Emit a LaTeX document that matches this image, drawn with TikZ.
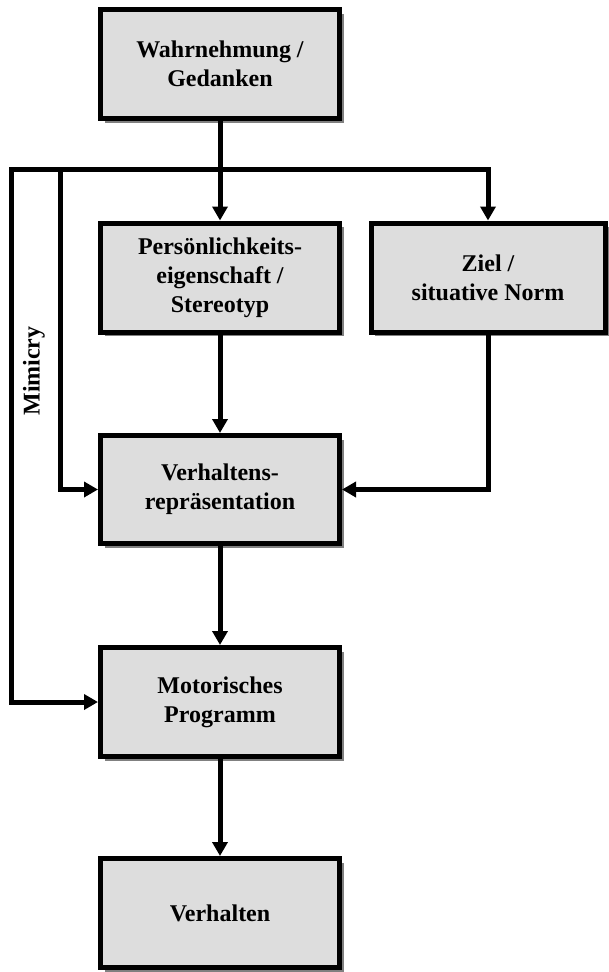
\documentclass[tikz,border=0pt]{standalone}
\usepackage{fontspec}
\setmainfont{Liberation Serif}
\usetikzlibrary{arrows.meta,shadows}
\definecolor{boxfill}{HTML}{DDDDDD}
\definecolor{shadowgray}{HTML}{808080}
\begin{document}
\begin{tikzpicture}[x=1pt,y=-1pt,
  flowbox/.style={draw=black, line width=5pt, fill=boxfill,
    minimum width=239pt, minimum height=109pt, inner sep=2pt,
    align=center, font=\fontsize{24}{29}\selectfont\bfseries,
    general shadow={fill=shadowgray, shadow xshift=4pt, shadow yshift=-4pt}},
  conn/.style={line width=5pt, line join=miter},
  arr/.style={conn, -{Triangle[length=14pt,width=15pt]}},
  darr/.style={conn, {Triangle[length=14pt,width=15pt]}-{Triangle[length=14pt,width=15pt]}}
]
\useasboundingbox (0,0) rectangle (608,972);
\node[flowbox] (w) at (220,64) {Wahrnehmung /\\Gedanken};
\node[flowbox] (p) at (220,277.5) {Persönlichkeits-\\eigenschaft /\\Stereotyp};
\node[flowbox, minimum width=234pt] (z) at (488,277.5) {Ziel /\\situative Norm};
\node[flowbox, minimum height=108pt] (v) at (220,489.5) {Verhaltens-\\repräsentation};
\node[flowbox] (m) at (220,702) {Motorisches\\Programm};
\node[flowbox] (b) at (220,913) {Verhalten};
\coordinate (hL) at (11,169);
\coordinate (hM) at (60,169);
\draw[darr] (m.west) -| (hL) -| (z.north);
\draw[arr] (hM) |- (v.west);
\draw[arr] (w.south) -- (p.north);
\draw[arr] (p.south) -- (v.north);
\draw[arr] (z.south) |- (v.east);
\draw[arr] (v.south) -- (m.north);
\draw[arr] (m.south) -- (b.north);
\node[rotate=90, font=\fontsize{24}{29}\selectfont\bfseries] (mim) at (34,371) {Mimicry};
\end{tikzpicture}
\end{document}
